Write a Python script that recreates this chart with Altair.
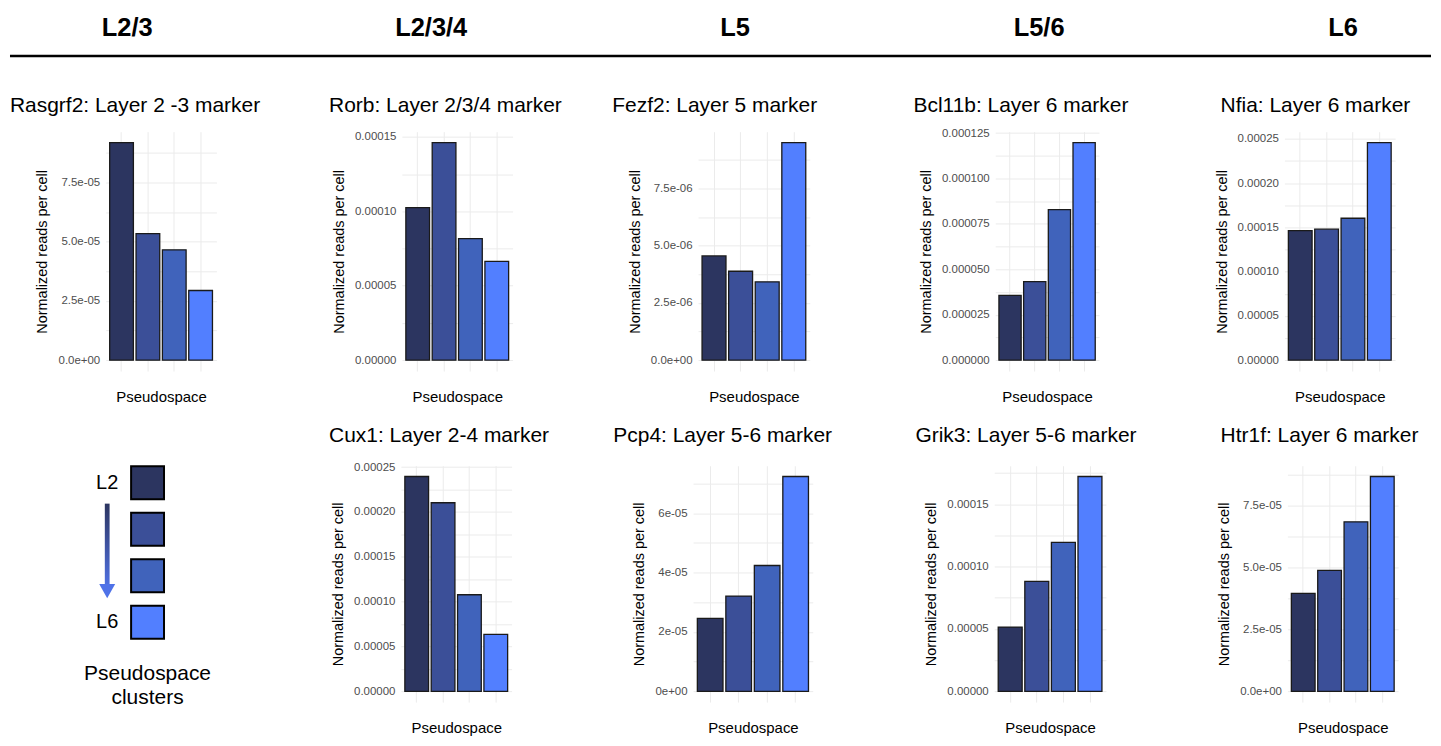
import altair as alt
import pandas as pd

FONT = "Liberation Sans"

# ---------------- data ----------------
CLUSTERS = ["1", "2", "3", "4"]
CLUSTER_COLORS = ["#2C3560", "#3B4F98", "#4063BB", "#527FFF"]

COLUMN_HEADERS = ["L2/3", "L2/3/4", "L5", "L5/6", "L6"]

TITLES = [
    "Rasgrf2: Layer 2 -3 marker",
    "Rorb: Layer 2/3/4 marker",
    "Fezf2: Layer 5 marker",
    "Bcl11b: Layer 6 marker",
    "Nfia: Layer 6 marker",
    "Cux1: Layer 2-4 marker",
    "Pcp4: Layer 5-6 marker",
    "Grik3: Layer 5-6 marker",
    "Htr1f: Layer 6 marker",
]

RASGRF2 = [9.19e-5, 5.34e-5, 4.66e-5, 2.94e-5]
RORB = [1.025e-4, 1.462e-4, 8.16e-5, 6.64e-5]
FEZF2 = [4.55e-6, 3.88e-6, 3.42e-6, 9.5e-6]
BCL11B = [3.57e-5, 4.32e-5, 8.29e-5, 1.198e-4]
NFIA = [1.464e-4, 1.479e-4, 1.603e-4, 2.458e-4]
CUX1 = [2.396e-4, 2.103e-4, 1.077e-4, 6.36e-5]
PCP4 = [2.46e-5, 3.21e-5, 4.24e-5, 7.24e-5]
GRIK3 = [5.15e-5, 8.82e-5, 1.194e-4, 1.722e-4]
HTR1F = [3.96e-5, 4.89e-5, 6.85e-5, 8.68e-5]
SERIES = [RASGRF2, RORB, FEZF2, BCL11B, NFIA, CUX1, PCP4, GRIK3, HTR1F]

Y_TICKS = [
    [0, 2.5e-5, 5e-5, 7.5e-5],
    [0, 5e-5, 1e-4, 1.5e-4],
    [0, 2.5e-6, 5e-6, 7.5e-6],
    [0, 2.5e-5, 5e-5, 7.5e-5, 1e-4, 1.25e-4],
    [0, 5e-5, 1e-4, 1.5e-4, 2e-4, 2.5e-4],
    [0, 5e-5, 1e-4, 1.5e-4, 2e-4, 2.5e-4],
    [0, 2e-5, 4e-5, 6e-5],
    [0, 5e-5, 1e-4, 1.5e-4],
    [0, 2.5e-5, 5e-5, 7.5e-5],
]
Y_LABELS = [
    ["0.0e+00", "2.5e-05", "5.0e-05", "7.5e-05"],
    ["0.00000", "0.00005", "0.00010", "0.00015"],
    ["0.0e+00", "2.5e-06", "5.0e-06", "7.5e-06"],
    ["0.000000", "0.000025", "0.000050", "0.000075", "0.000100", "0.000125"],
    ["0.00000", "0.00005", "0.00010", "0.00015", "0.00020", "0.00025"],
    ["0.00000", "0.00005", "0.00010", "0.00015", "0.00020", "0.00025"],
    ["0e+00", "2e-05", "4e-05", "6e-05"],
    ["0.00000", "0.00005", "0.00010", "0.00015"],
    ["0.0e+00", "2.5e-05", "5.0e-05", "7.5e-05"],
]

LEGEND_ENDS = ["L2", "L6"]
LEGEND_ENDS_POS = [1, 4]
LEGEND_CAPTION = "Pseudospace\nclusters"

# ---------------- layout / style ----------------
PANEL_WIDTHS = [111, 111, 112, 104, 111, 111, 120, 112, 111]
ROW_HEIGHTS = [240, 237]
ROW_SPACING = [186, 182]
TITLE_DX = [-96, -73, -86, -82, -64, -72, -80, -79, -67]
TITLE_GAP = [18.4, 23.3]      # title baseline -> plot top
TITLE_FUDGE = 24
LABEL_HALF = 6
GRID = "#EBEBEB"
LEGEND_W = 114
HEADER_W = 1329
HEADER_H = 47
HEADER_C0, HEADER_STEP = 21.6, 304.8
RULE_LEFT_PX = -96


def panel(i, row):
    values = SERIES[i]
    ticks = Y_TICKS[i]
    labels = Y_LABELS[i]
    h = ROW_HEIGHTS[row]
    df = pd.DataFrame({"cluster": CLUSTERS, "value": values})
    top = max(values)
    lo, hi = -0.05 * top, 1.05 * top
    step = ticks[1] - ticks[0]
    cand = list(ticks) + [t + step / 2 for t in ticks]
    grid_vals = sorted(v for v in cand if lo <= v <= hi)
    eps = step * 1e-3
    expr = ""
    for t, lab in zip(ticks, labels):
        expr += f"abs(datum.value - ({t!r})) < {eps!r} ? '{lab}' : "
    expr += "''"
    dist_top = (hi - max(ticks)) / (hi - lo) * h
    overhang = max(0.0, LABEL_HALF - dist_top)
    offset = TITLE_GAP[row] - TITLE_FUDGE - overhang

    title = alt.TitleParams(
        text=TITLES[i], anchor="start", frame="group", dx=TITLE_DX[i],
        offset=offset, fontSize=21, fontWeight="normal",
        font=FONT, color="black", baseline="bottom",
    )
    return (
        alt.Chart(df, title=title)
        .mark_bar(stroke="#1A1A1A", strokeWidth=1.3)
        .encode(
            x=alt.X(
                "cluster:N", sort=CLUSTERS,
                scale=alt.Scale(paddingInner=0.1, paddingOuter=0.15),
                axis=alt.Axis(
                    title="Pseudospace", labels=False, ticks=False, domain=False,
                    grid=True, gridColor=GRID, gridWidth=1, bandPosition=0.5,
                    titleFont=FONT, titleFontSize=15, titleFontWeight="normal",
                    titleColor="black", titlePadding=19, minExtent=0, maxExtent=0,
                ),
            ),
            y=alt.Y(
                "value:Q",
                scale=alt.Scale(domain=[lo, hi], nice=False, zero=False),
                axis=alt.Axis(
                    values=grid_vals, labelExpr=expr, labelOverlap=False,
                    title="Normalized reads per cell", grid=True, gridColor=GRID,
                    gridWidth=1, domain=False, ticks=False, tickSize=0,
                    labelPadding=6, labelFontSize=11.5, labelColor="#4D4D4D",
                    labelFont=FONT, titleFont=FONT, titleFontSize=14.5,
                    titleFontWeight="normal", titleColor="black", titlePadding=8,
                ),
            ),
            y2=alt.datum(0),
            color=alt.Color(
                "cluster:N", scale=alt.Scale(domain=CLUSTERS, range=CLUSTER_COLORS),
                legend=None,
            ),
        )
        .properties(width=PANEL_WIDTHS[i], height=h)
    )


# ---------------- header ----------------
hd0 = -HEADER_C0 / HEADER_STEP
hd1 = hd0 + HEADER_W / HEADER_STEP
HX = alt.Scale(domain=[hd0, hd1], nice=False, zero=False)
HY = alt.Scale(domain=[0, 1], nice=False, zero=False)
hdr_df = pd.DataFrame({"col": list(range(len(COLUMN_HEADERS))), "label": COLUMN_HEADERS})
one_df = pd.DataFrame({"k": [0]})

header_text = alt.Chart(hdr_df).mark_text(
    fontSize=25.5, fontWeight="bold", font=FONT, color="black", baseline="middle"
).encode(
    x=alt.X("col:Q", scale=HX, axis=None),
    y=alt.Y(datum=1 - 19.5 / HEADER_H, type="quantitative", scale=HY, axis=None),
    text="label:N",
)
header_rule = alt.Chart(one_df).mark_rule(
    color="black", strokeWidth=2.5, strokeCap="butt"
).encode(
    x=alt.X(datum=hd0 + RULE_LEFT_PX / HEADER_STEP, type="quantitative", scale=HX,
            axis=None),
    x2=alt.X2(datum=hd1),
    y=alt.Y(datum=0, type="quantitative", scale=HY, axis=None),
)
header = alt.layer(header_rule, header_text).properties(width=HEADER_W, height=HEADER_H)

# ---------------- legend ----------------
LEG_H = ROW_HEIGHTS[1]
LSTEP = 46.67
ly0 = 1 - 17 / LSTEP
LX = alt.Scale(domain=[0, 1], nice=False, zero=False)
LY = alt.Scale(domain=[ly0, ly0 + LEG_H / LSTEP], reverse=True, nice=False, zero=False)
leg_df = pd.DataFrame({"cluster": CLUSTERS, "pos": [1, 2, 3, 4]})
ends_df = pd.DataFrame({"label": LEGEND_ENDS, "pos": LEGEND_ENDS_POS})
cap_df = pd.DataFrame({"text": [LEGEND_CAPTION]})

SQ_X, ARROW_X, ARROW_HALF = 0.368, 0.013, 0.021

squares = alt.Chart(leg_df).mark_square(
    size=1089, opacity=1, stroke="black", strokeWidth=2
).encode(
    x=alt.X(datum=SQ_X, type="quantitative", scale=LX, axis=None),
    y=alt.Y("pos:Q", scale=LY, axis=None),
    color=alt.Color("cluster:N", scale=alt.Scale(domain=CLUSTERS, range=CLUSTER_COLORS),
                    legend=None),
)
ends = alt.Chart(ends_df).mark_text(
    fontSize=20, font=FONT, color="black", align="center", baseline="middle"
).encode(
    x=alt.X(datum=ARROW_X, type="quantitative", scale=LX, axis=None),
    y=alt.Y("pos:Q", scale=LY, axis=None),
    text="label:N",
)
arrow_fill = alt.LinearGradient(
    gradient="linear",
    stops=[alt.GradientStop(color="#2C3560", offset=0),
           alt.GradientStop(color="#4F70E2", offset=1)],
    x1=0, x2=0, y1=0, y2=1,
)
arrow_body = alt.Chart(one_df).mark_rect(fill=arrow_fill, strokeWidth=0).encode(
    x=alt.X(datum=ARROW_X - ARROW_HALF, type="quantitative", scale=LX, axis=None),
    x2=alt.X2(datum=ARROW_X + ARROW_HALF),
    y=alt.Y(datum=1.45, type="quantitative", scale=LY, axis=None),
    y2=alt.Y2(datum=3.22),
)
arrow_head = alt.Chart(one_df).mark_point(
    shape="M-1,-0.9L1,-0.9L0,0.9Z", size=256, filled=True, fill="#4F72E8",
    opacity=1, strokeWidth=0,
).encode(
    x=alt.X(datum=ARROW_X, type="quantitative", scale=LX, axis=None),
    y=alt.Y(datum=3.33, type="quantitative", scale=LY, axis=None),
)
caption = alt.Chart(cap_df).mark_text(
    fontSize=21, font=FONT, color="black", align="center", baseline="middle",
    lineBreak="\n", lineHeight=24,
).encode(
    x=alt.X(datum=SQ_X, type="quantitative", scale=LX, axis=None),
    y=alt.Y(datum=ly0 + 209 / LSTEP, type="quantitative", scale=LY, axis=None),
    text="text:N",
)
legend = alt.layer(arrow_body, arrow_head, squares, ends, caption).properties(
    width=LEGEND_W, height=LEG_H
)

# ---------------- assemble ----------------
row1 = alt.hconcat(*[panel(i, 0) for i in range(5)], spacing=ROW_SPACING[0],
                   bounds="flush")
row2 = alt.hconcat(legend, *[panel(i, 1) for i in range(5, 9)],
                   spacing=ROW_SPACING[1], bounds="flush")
grid = alt.vconcat(row1, row2, spacing=19)

chart = (
    alt.vconcat(header, grid, spacing=37, padding=0)
    .configure(font=FONT)
    .configure_view(stroke=None)
)

chart.save("out.html", embed_options={"renderer": "svg", "actions": False})
